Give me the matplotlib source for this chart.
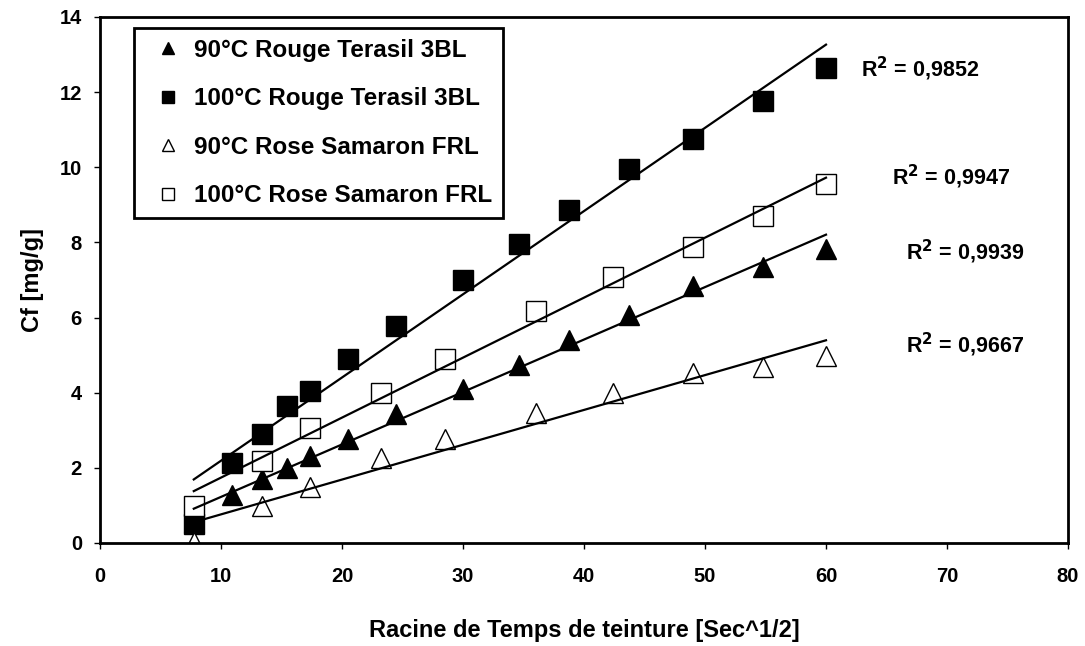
import numpy as np
import matplotlib
matplotlib.use("Agg")
import matplotlib.pyplot as plt

plt.rcParams['font.family'] = ['Liberation Sans', 'DejaVu Sans']
plt.rcParams['font.weight'] = 'bold'

# racine du temps (sec^1/2)
x_rouge = [7.75, 10.95, 13.42, 15.49, 17.32, 20.49, 24.49, 30.0, 34.64, 38.73, 43.7, 48.99, 54.77, 60.0]
x_rose = [7.75, 13.42, 17.32, 23.2, 28.5, 36.0, 42.4, 48.99, 54.77, 60.0]

# Cf [mg/g]
rouge_90 = [0.55, 1.27, 1.70, 1.99, 2.31, 2.77, 3.43, 4.10, 4.75, 5.40, 6.08, 6.84, 7.35, 7.83]
rouge_100 = [0.50, 2.13, 2.90, 3.65, 4.05, 4.90, 5.78, 7.00, 7.96, 8.85, 9.95, 10.75, 11.77, 12.65]
rose_90 = [0.02, 0.99, 1.48, 2.25, 2.77, 3.46, 3.99, 4.52, 4.68, 4.99]
rose_100 = [0.99, 2.17, 3.06, 3.99, 4.90, 6.18, 7.07, 7.87, 8.71, 9.56]

labels = ["90°C Rouge Terasil 3BL", "100°C Rouge Terasil 3BL",
          "90°C Rose Samaron FRL", "100°C Rose Samaron FRL"]
r2_text = ["0,9852", "0,9947", "0,9939", "0,9667"]
r2_pos = [(67.8, 12.62), (70.3, 9.75), (71.5, 7.75), (71.5, 5.26)]

fig = plt.figure(figsize=(10.85, 6.46), dpi=100)
ax = fig.add_axes([100/1085, 1-543/646, 968/1085, 526/646])

series = [(x_rouge, rouge_90, '^', 'black'),
          (x_rouge, rouge_100, 's', 'black'),
          (x_rose, rose_90, '^', 'white'),
          (x_rose, rose_100, 's', 'white')]

for (xs, ys, m, fc), lab in zip(series, labels):
    xs = np.array(xs)
    ys = np.array(ys)
    ax.plot(xs, ys, linestyle='none', marker=m, ms=14, mfc=fc, mec='black',
            mew=1, label=lab, zorder=2)
    # trendline (linear fit)
    a, b = np.polyfit(xs, ys, 1)
    xl = np.array([xs.min(), xs.max()])
    ax.plot(xl, a*xl + b, color='black', lw=1.6, zorder=3)

for t, (tx, ty) in zip(r2_text, r2_pos):
    ax.text(tx, ty, "R$^{\\mathbf{2}}$ = " + t, ha='center', va='center',
            fontsize=15.5, fontweight='bold')

ax.set_xlim(0, 80)
ax.set_ylim(0, 14)
ax.set_xticks(np.arange(0, 81, 10))
ax.set_yticks(np.arange(0, 15, 2))
ax.tick_params(direction='out', length=4, width=1, labelsize=14.5)
ax.tick_params(axis='x', pad=13)
ax.tick_params(axis='y', pad=9)
for s in ax.spines.values():
    s.set_linewidth(2)

ax.set_xlabel("Racine de Temps de teinture [Sec^1/2]", fontsize=17,
              fontweight='bold')
ax.xaxis.set_label_coords(0.5, -0.145)
ax.set_ylabel("Cf [mg/g]", fontsize=17, fontweight='bold')
ax.yaxis.set_label_coords(-0.058, 0.5)

leg = ax.legend(loc='upper left', bbox_to_anchor=(134/1085, 1-28/646),
                bbox_transform=fig.transFigure, borderaxespad=0,
                fontsize=17.5, markerscale=0.65, numpoints=1, handlelength=1.9,
                handletextpad=0.1, labelspacing=1.05, borderpad=0.45,
                fancybox=False, framealpha=1)
leg.get_frame().set_edgecolor('black')
leg.get_frame().set_linewidth(2)

fig.savefig("out.png", dpi=100)
